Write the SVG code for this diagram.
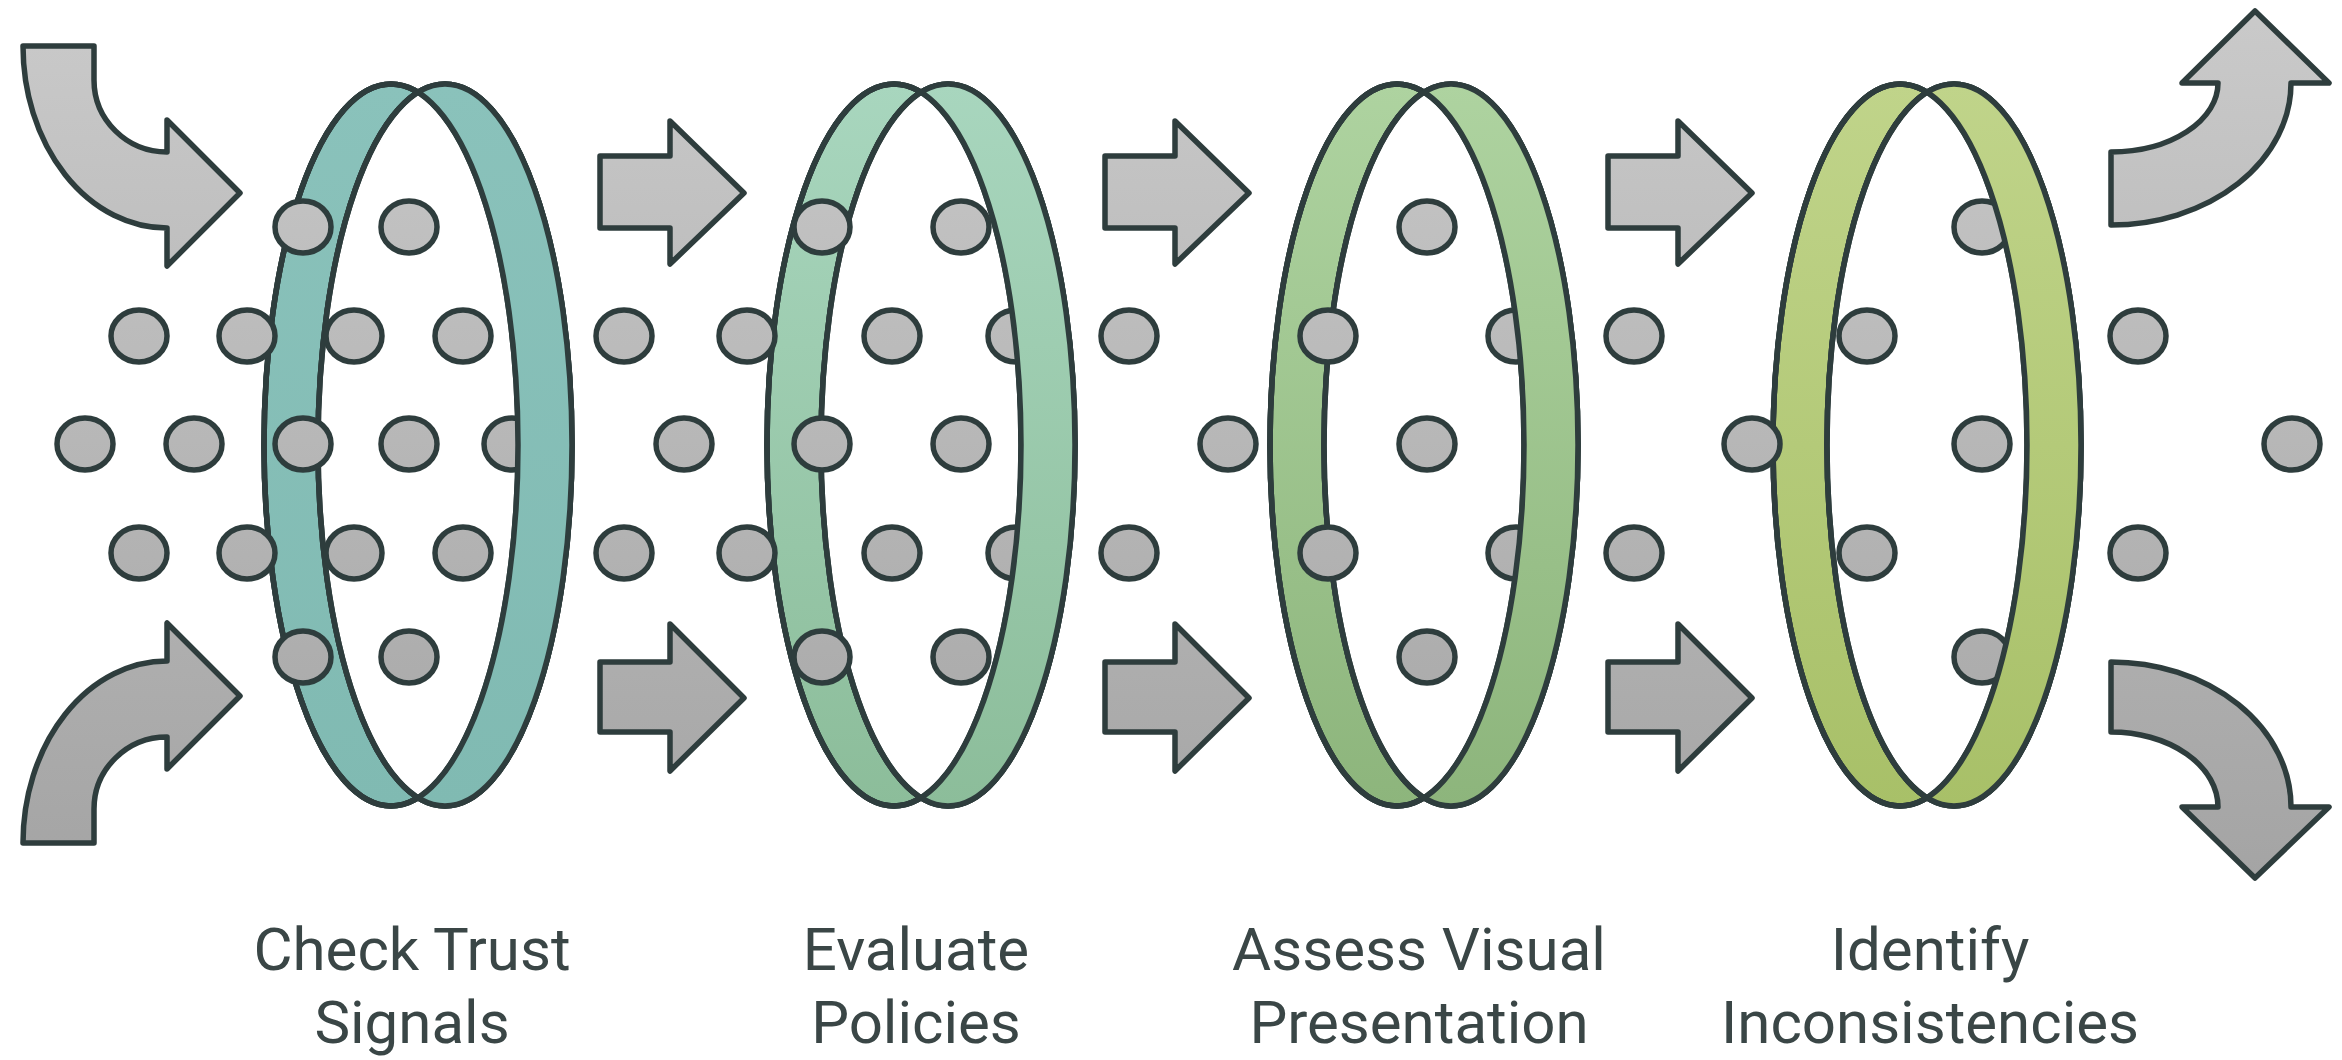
<svg xmlns="http://www.w3.org/2000/svg" width="2342" height="1060" viewBox="0 0 2342 1060">
<defs>
<style>
.ln{stroke:#2e3d3d;stroke-width:5.5;stroke-linejoin:round}
.dot{fill:url(#gray);stroke:#2e3d3d;stroke-width:5.5}
.arr{fill:url(#gray);stroke:#2e3d3d;stroke-width:5.5;stroke-linejoin:round}
.lbl{font-family:Roboto,"Liberation Sans",sans-serif;font-size:60px;fill:#3a4646;text-anchor:middle}
</style>
<linearGradient id="gray" gradientUnits="userSpaceOnUse" x1="0" y1="0" x2="0" y2="880"><stop offset="0" stop-color="#cacaca"/><stop offset="1" stop-color="#a4a4a4"/></linearGradient>
<linearGradient id="g1" x1="0" y1="0" x2="0" y2="1"><stop offset="0" stop-color="#8ac2bb"/><stop offset="1" stop-color="#80bab2"/></linearGradient>
<linearGradient id="g2" x1="0" y1="0" x2="0" y2="1"><stop offset="0" stop-color="#a8d6be"/><stop offset="1" stop-color="#8cbd9a"/></linearGradient>
<linearGradient id="g3" x1="0" y1="0" x2="0" y2="1"><stop offset="0" stop-color="#aed3a0"/><stop offset="1" stop-color="#8db57c"/></linearGradient>
<linearGradient id="g4" x1="0" y1="0" x2="0" y2="1"><stop offset="0" stop-color="#c0d48a"/><stop offset="1" stop-color="#a8c068"/></linearGradient>
<clipPath id="clipA"><ellipse cx="-27" cy="445" rx="127" ry="361"/></clipPath>
<clipPath id="clipNotA"><path clip-rule="evenodd" d="M-300,0 H300 V900 H-300 Z M-154,445 A127,361 0 1 0 100,445 A127,361 0 1 0 -154,445 Z"/></clipPath>
<g id="ringbase">
<ellipse class="ln" cx="-27" cy="445" rx="127" ry="361"/>
<ellipse class="ln" cx="27" cy="445" rx="127" ry="361"/>
<ellipse cx="27" cy="445" rx="127" ry="361" fill="#fff" clip-path="url(#clipA)"/>
<ellipse cx="-27" cy="445" rx="127" ry="361" fill="none" class="ln"/>
<ellipse cx="27" cy="445" rx="127" ry="361" fill="none" class="ln"/>
</g>
<g id="ringfront">
<ellipse cx="27" cy="445" rx="127" ry="361" clip-path="url(#clipNotA)"/>
<ellipse cx="-27" cy="445" rx="127" ry="361" fill="none" class="ln"/>
<ellipse cx="27" cy="445" rx="127" ry="361" fill="none" class="ln"/>
</g>
</defs>
<g id="connectors">
<path class="arr" d="M23,46 H94 V80 A73,72 0 0 0 167,152 V120 L240,193 L167,266 V228 A144,182 0 0 1 23,46 Z"/>
<path class="arr" d="M23,843 H94 V809 A73,72 0 0 1 167,737 V769 L240,696 L167,623 V661 A144,182 0 0 0 23,843 Z"/>
<path class="arr" d="M600,156 H670 V121 L744,193 L670,264 V228 H600 Z"/>
<path class="arr" d="M600,662 H670 V624 L744,698 L670,771 V732 H600 Z"/>
<path class="arr" d="M1105,156 H1175 V121 L1249,193 L1175,264 V228 H1105 Z"/>
<path class="arr" d="M1105,662 H1175 V624 L1249,698 L1175,771 V732 H1105 Z"/>
<path class="arr" d="M1608,156 H1678 V121 L1752,193 L1678,264 V228 H1608 Z"/>
<path class="arr" d="M1608,662 H1678 V624 L1752,698 L1678,771 V732 H1608 Z"/>
<path class="arr" d="M2111,152 A107,69 0 0 0 2218,83 H2182 L2255,11 L2329,83 H2291 A180,142 0 0 1 2111,225 Z"/>
<path class="arr" d="M2111,732 A107,75 0 0 1 2218,807 H2182 L2255,878 L2329,807 H2291 A180,145 0 0 0 2111,662 Z"/>
</g>
<g id="ring1" fill="url(#g1)">
<use href="#ringbase" transform="translate(418,0)"/>
<ellipse class="dot" cx="512" cy="444" rx="28" ry="26"/>
<use href="#ringfront" transform="translate(418,0)"/>
</g>
<g id="ring2" fill="url(#g2)">
<use href="#ringbase" transform="translate(921,0)"/>
<ellipse class="dot" cx="1016" cy="336" rx="28" ry="26"/>
<ellipse class="dot" cx="1016" cy="553" rx="28" ry="26"/>
<use href="#ringfront" transform="translate(921,0)"/>
</g>
<g id="ring3" fill="url(#g3)">
<use href="#ringbase" transform="translate(1424,0)"/>
<ellipse class="dot" cx="1516" cy="336" rx="28" ry="26"/>
<ellipse class="dot" cx="1516" cy="553" rx="28" ry="26"/>
<use href="#ringfront" transform="translate(1424,0)"/>
</g>
<g id="ring4" fill="url(#g4)">
<use href="#ringbase" transform="translate(1927,0)"/>
<ellipse class="dot" cx="1982" cy="227" rx="28" ry="26"/>
<ellipse class="dot" cx="1982" cy="657" rx="28" ry="26"/>
<use href="#ringfront" transform="translate(1927,0)"/>
</g>
<g id="dots">
<ellipse class="dot" cx="139" cy="336" rx="28" ry="26"/>
<ellipse class="dot" cx="247" cy="336" rx="28" ry="26"/>
<ellipse class="dot" cx="85" cy="444" rx="28" ry="26"/>
<ellipse class="dot" cx="194" cy="444" rx="28" ry="26"/>
<ellipse class="dot" cx="139" cy="553" rx="28" ry="26"/>
<ellipse class="dot" cx="247" cy="553" rx="28" ry="26"/>
<ellipse class="dot" cx="303" cy="227" rx="28" ry="26"/>
<ellipse class="dot" cx="409" cy="227" rx="28" ry="26"/>
<ellipse class="dot" cx="354" cy="336" rx="28" ry="26"/>
<ellipse class="dot" cx="463" cy="336" rx="28" ry="26"/>
<ellipse class="dot" cx="303" cy="444" rx="28" ry="26"/>
<ellipse class="dot" cx="409" cy="444" rx="28" ry="26"/>
<ellipse class="dot" cx="354" cy="553" rx="28" ry="26"/>
<ellipse class="dot" cx="463" cy="553" rx="28" ry="26"/>
<ellipse class="dot" cx="303" cy="657" rx="28" ry="26"/>
<ellipse class="dot" cx="409" cy="657" rx="28" ry="26"/>
<ellipse class="dot" cx="624" cy="336" rx="28" ry="26"/>
<ellipse class="dot" cx="747" cy="336" rx="28" ry="26"/>
<ellipse class="dot" cx="684" cy="444" rx="28" ry="26"/>
<ellipse class="dot" cx="624" cy="553" rx="28" ry="26"/>
<ellipse class="dot" cx="747" cy="553" rx="28" ry="26"/>
<ellipse class="dot" cx="822" cy="227" rx="28" ry="26"/>
<ellipse class="dot" cx="961" cy="227" rx="28" ry="26"/>
<ellipse class="dot" cx="892" cy="336" rx="28" ry="26"/>
<ellipse class="dot" cx="822" cy="444" rx="28" ry="26"/>
<ellipse class="dot" cx="961" cy="444" rx="28" ry="26"/>
<ellipse class="dot" cx="892" cy="553" rx="28" ry="26"/>
<ellipse class="dot" cx="822" cy="657" rx="28" ry="26"/>
<ellipse class="dot" cx="961" cy="657" rx="28" ry="26"/>
<ellipse class="dot" cx="1129" cy="336" rx="28" ry="26"/>
<ellipse class="dot" cx="1228" cy="444" rx="28" ry="26"/>
<ellipse class="dot" cx="1129" cy="553" rx="28" ry="26"/>
<ellipse class="dot" cx="1427" cy="227" rx="28" ry="26"/>
<ellipse class="dot" cx="1328" cy="336" rx="28" ry="26"/>
<ellipse class="dot" cx="1427" cy="444" rx="28" ry="26"/>
<ellipse class="dot" cx="1328" cy="553" rx="28" ry="26"/>
<ellipse class="dot" cx="1427" cy="657" rx="28" ry="26"/>
<ellipse class="dot" cx="1634" cy="336" rx="28" ry="26"/>
<ellipse class="dot" cx="1752" cy="444" rx="28" ry="26"/>
<ellipse class="dot" cx="1634" cy="553" rx="28" ry="26"/>
<ellipse class="dot" cx="1867" cy="336" rx="28" ry="26"/>
<ellipse class="dot" cx="1982" cy="444" rx="28" ry="26"/>
<ellipse class="dot" cx="1867" cy="553" rx="28" ry="26"/>
<ellipse class="dot" cx="2138" cy="336" rx="28" ry="26"/>
<ellipse class="dot" cx="2292" cy="444" rx="28" ry="26"/>
<ellipse class="dot" cx="2138" cy="553" rx="28" ry="26"/>
</g>
<g id="labels">
<text class="lbl" x="412" y="970">Check Trust</text>
<text class="lbl" x="412" y="1043">Signals</text>
<text class="lbl" x="916" y="970">Evaluate</text>
<text class="lbl" x="916" y="1043">Policies</text>
<text class="lbl" x="1419" y="970">Assess Visual</text>
<text class="lbl" x="1419" y="1043">Presentation</text>
<text class="lbl" x="1930" y="970">Identify</text>
<text class="lbl" x="1930" y="1043">Inconsistencies</text>
</g>
</svg>
